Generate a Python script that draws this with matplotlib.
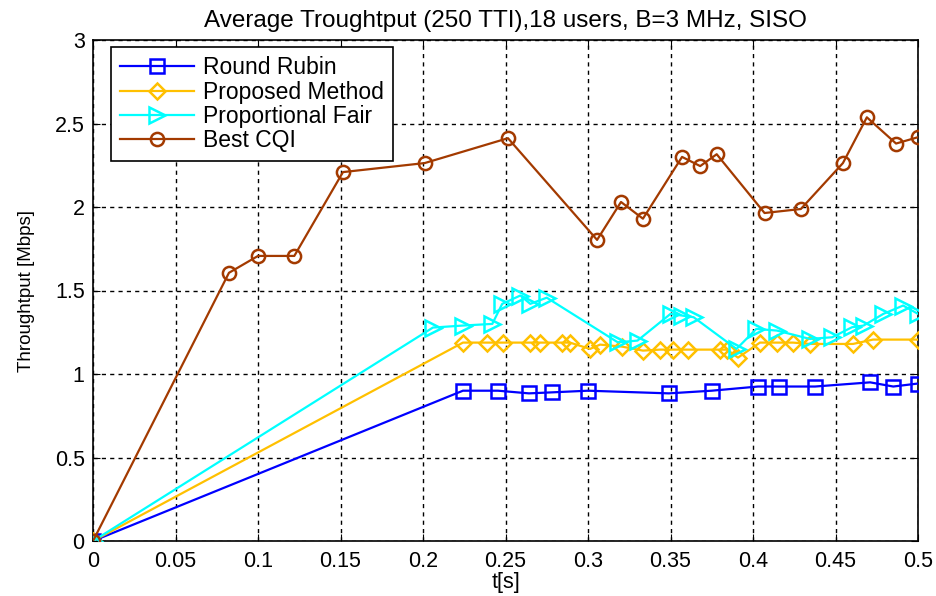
import matplotlib
matplotlib.use("Agg")
import matplotlib.pyplot as plt

plt.rcParams['font.family'] = ['Liberation Sans', 'DejaVu Sans']

rr_t = [0, 0.2242, 0.2455, 0.2642, 0.278, 0.300, 0.349, 0.375, 0.403, 0.416, 0.4376, 0.471, 0.485, 0.500]
rr_v = [0, 0.90, 0.90, 0.884, 0.89, 0.90, 0.884, 0.90, 0.925, 0.925, 0.925, 0.95, 0.925, 0.943]

pm_t = [0, 0.2242, 0.2388, 0.2485, 0.2648, 0.2709, 0.2842, 0.2891, 0.3012, 0.3073, 0.3206, 0.3333, 0.3436, 0.3515, 0.3606,
        0.3800, 0.3842, 0.3909, 0.4042, 0.4145, 0.4242, 0.4345, 0.4606, 0.4727, 0.500]
pm_v = [0, 1.188, 1.188, 1.188, 1.188, 1.188, 1.188, 1.188, 1.15, 1.176, 1.164, 1.14, 1.146, 1.146, 1.146,
        1.146, 1.146, 1.098, 1.188, 1.188, 1.188, 1.18, 1.18, 1.206, 1.206]

pf_t = [0, 0.206, 0.224, 0.242, 0.248, 0.259, 0.265, 0.275, 0.318, 0.330, 0.350, 0.357, 0.364, 0.390,
        0.402, 0.4145, 0.4345, 0.448, 0.460, 0.467, 0.479, 0.491, 0.500]
pf_v = [0, 1.278, 1.29, 1.30, 1.42, 1.47, 1.42, 1.457, 1.19, 1.20, 1.36, 1.35, 1.34, 1.15,
        1.27, 1.26, 1.21, 1.22, 1.28, 1.29, 1.36, 1.41, 1.36]

bc_t = [0, 0.0824, 0.100, 0.122, 0.1515, 0.201, 0.2515, 0.3055, 0.320, 0.3333, 0.357, 0.368, 0.378,
        0.407, 0.429, 0.4545, 0.469, 0.4867, 0.500]
bc_v = [0, 1.606, 1.707, 1.707, 2.209, 2.263, 2.412, 1.803, 2.03, 1.93, 2.30, 2.245, 2.316,
        1.964, 1.988, 2.263, 2.537, 2.38, 2.418]

labels = ['Round Rubin', 'Proposed Method', 'Proportional Fair', 'Best CQI']
xticks = [0, 0.05, 0.1, 0.15, 0.2, 0.25, 0.3, 0.35, 0.4, 0.45, 0.5]
xticklabels = ['0', '0.05', '0.1', '0.15', '0.2', '0.25', '0.3', '0.35', '0.4', '0.45', '0.5']
yticks = [0, 0.5, 1, 1.5, 2, 2.5, 3]
yticklabels = ['0', '0.5', '1', '1.5', '2', '2.5', '3']

fig = plt.figure(figsize=(9.36, 5.96), dpi=100)
ax = fig.add_axes([93/936, 1 - 541/596, (918 - 93)/936, (541 - 40)/596])

lw = 1.6
ax.plot(rr_t, rr_v, color='#0000FF', marker='s', ms=10, mfc='none', mew=1.8, lw=lw, label=labels[0], zorder=3)
ax.plot(pm_t, pm_v, color='#FFC000', marker='D', ms=8.5, mfc='none', mew=1.8, lw=lw, label=labels[1], zorder=3)
ax.plot(pf_t, pf_v, color='#00FFFF', marker='>', ms=11, mfc='none', mew=1.8, lw=lw, label=labels[2], zorder=3)
ax.plot(bc_t, bc_v, color='#A33A00', marker='o', ms=9.5, mfc='none', mew=1.8, lw=lw, label=labels[3], zorder=4)

ax.set_xlim(0, 0.5)
ax.set_ylim(0, 3)
ax.set_xticks(xticks)
ax.set_xticklabels(xticklabels)
ax.set_yticks(yticks)
ax.set_yticklabels(yticklabels)
ax.tick_params(direction='in', length=5, labelsize=15.5, top=True, right=True, colors='black')
ax.tick_params(axis='x', pad=7)
ax.tick_params(axis='y', pad=6)
ax.grid(True, color='black', linestyle=(0, (3, 3)), linewidth=1.0)
for s in ax.spines.values():
    s.set_linewidth(1.2)

ax.set_title('Average Troughtput (250 TTI),18 users, B=3 MHz, SISO', fontsize=17.5, pad=9)
ax.set_xlabel('t[s]', fontsize=15.5, labelpad=0)
ax.set_ylabel('Throughtput [Mbps]', fontsize=13.5, labelpad=14)

leg = ax.legend(loc='upper left', bbox_to_anchor=((111 - 93)/825, 1 - (47 - 40)/501), fontsize=16.5,
                frameon=True, fancybox=False, handlelength=3.2, borderaxespad=0, labelspacing=0.06,
                handletextpad=0.4, borderpad=0.4)
leg.get_frame().set_edgecolor('black')
leg.get_frame().set_linewidth(1.2)
leg.get_frame().set_alpha(1)

fig.savefig('out.png', dpi=100)
